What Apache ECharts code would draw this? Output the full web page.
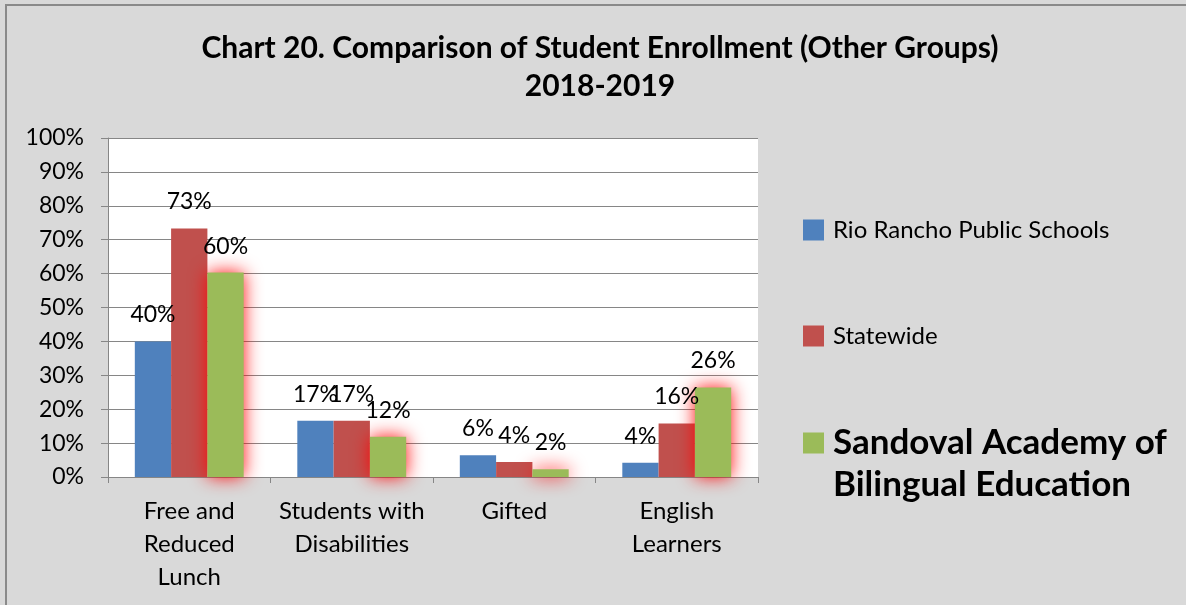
<!DOCTYPE html>
<html><head><meta charset="utf-8">
<script src="https://cdn.jsdelivr.net/npm/echarts@6/dist/echarts.min.js"></script>
<style>html,body{margin:0;padding:0;background:#d9d9d9;overflow:hidden;} #c{width:1186px;height:605px;}</style>
</head><body><div id="c"></div>
<script>
const categories = ['Free and\nReduced\nLunch', 'Students with\nDisabilities', 'Gifted', 'English\nLearners'];
const seriesNames = ['Rio Rancho Public Schools', 'Statewide', 'Sandoval Academy of Bilingual Education'];
const rioRancho = [0.40, 0.166, 0.064, 0.042];
const statewide = [0.733, 0.166, 0.044, 0.158];
const sandoval = [0.603, 0.119, 0.023, 0.264];
const yMin = 0, yMax = 1, yStep = 0.1;
const titleLines = ['Chart 20. Comparison of Student Enrollment (Other Groups)', '2018-2019'];

const FONT = 'Lato';
const colors = ['#4f81bd', '#c0504d', '#9bbb59'];
const pct = v => Math.round(v * 100) + '%';

const chart = echarts.init(document.getElementById('c'), null, {renderer: 'canvas'});
const labelOpt = {show: true, position: 'top', distance: 15, formatter: p => pct(p.value),
  fontSize: 23, color: '#000', fontFamily: FONT};
const legendBase = {orient: 'vertical', itemWidth: 21, itemHeight: 21, selectedMode: false, padding: 0,
  icon: 'rect',
  textStyle: {fontFamily: FONT, fontSize: 24, color: '#000', padding: [0, 0, 0, 4]}};

chart.setOption({
  animation: false,
  backgroundColor: '#d9d9d9',
  color: colors,
  title: {
    text: titleLines.join('\n'), left: 600, top: 24, padding: [5, 0, 5, 0], textAlign: 'center',
    textStyle: {fontFamily: FONT, fontWeight: 'bold', fontSize: 30, lineHeight: 38, color: '#000'}
  },
  graphic: [{type: 'rect', shape: {x: 6, y: 5, width: 1200, height: 620},
    style: {fill: 'none', stroke: '#8a8a8a', lineWidth: 2}, silent: true}],
  legend: [
    Object.assign({}, legendBase, {data: [seriesNames[0]], left: 803, top: 218}),
    Object.assign({}, legendBase, {data: [seriesNames[1]], left: 803, top: 324}),
    Object.assign({}, legendBase, {data: [{name: seriesNames[2], icon: 'path://M0,0L21,0L21,21L0,21Z M0,63L0,63Z'}],
      left: 803, top: 422, itemHeight: 63,
      formatter: () => 'Sandoval Academy of\nBilingual Education',
      textStyle: {fontFamily: FONT, fontSize: 35, fontWeight: 'bold', lineHeight: 42, color: '#000', padding: [0, 0, 0, 4]}})
  ],
  grid: {left: 108, right: 428, top: 138, bottom: 128, containLabel: false,
    show: true, backgroundColor: '#fff', borderWidth: 0},
  xAxis: {
    type: 'category', data: categories,
    axisLine: {lineStyle: {color: '#868686', width: 1}},
    axisTick: {show: true, length: 6, lineStyle: {color: '#868686'}},
    axisLabel: {fontFamily: FONT, fontSize: 24, color: '#000', lineHeight: 33, margin: 18, interval: 0}
  },
  yAxis: {
    type: 'value', min: yMin, max: yMax, interval: yStep,
    axisLine: {show: true, lineStyle: {color: '#868686', width: 1}},
    axisTick: {show: true, length: 7, lineStyle: {color: '#868686'}},
    splitLine: {lineStyle: {color: '#868686', width: 1}},
    axisLabel: {formatter: v => pct(v), fontFamily: FONT, fontSize: 23, color: '#000', margin: 24}
  },
  series: [
    {name: seriesNames[0], type: 'bar', data: rioRancho, barGap: '0%', barCategoryGap: '33%', label: labelOpt},
    {name: seriesNames[1], type: 'bar', data: statewide, barGap: '0%', barCategoryGap: '33%', label: labelOpt},
    {name: seriesNames[2], type: 'bar', data: sandoval, barGap: '0%', barCategoryGap: '33%', label: labelOpt,
      itemStyle: {shadowColor: 'rgba(255,0,0,0.95)', shadowBlur: 18}}
  ]
});
</script></body></html>
